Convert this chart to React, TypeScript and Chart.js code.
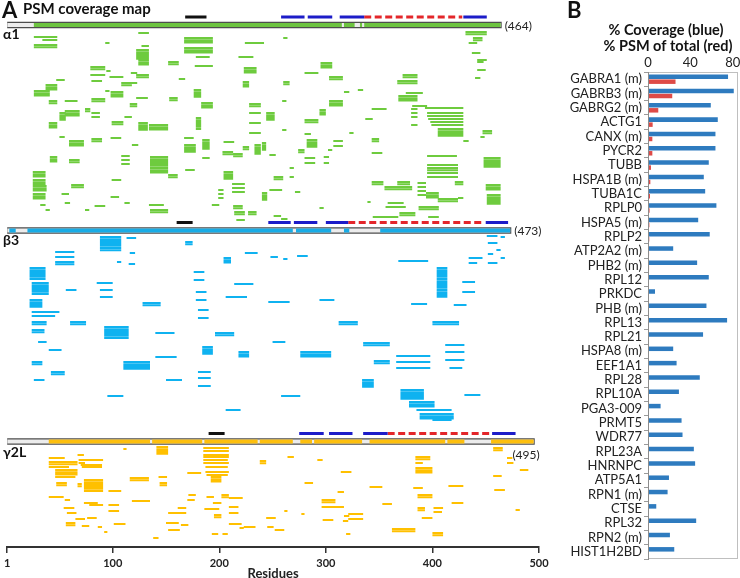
import React, { useEffect, useRef } from 'react';
import { Chart, registerables } from 'chart.js';
Chart.register(...registerables);

const FONT = "Lato, 'Open Sans', 'DejaVu Sans', sans-serif";

// ---------------- Panel A : PSM coverage map ----------------
const RESIDUE_TICKS = [1, 100, 200, 300, 400, 500];
const SUBUNITS = ['α1', 'β3', 'γ2L'];
const LENGTHS = [464, 473, 495];
const TRACK_ROWS = [25, 230.5, 441.5];

// covered stretches inside each subunit bar [start, end]
const A1_COVERED = [[26, 315], [317, 327], [332, 334], [336, 464]];
const B3_COVERED = [[3, 9], [20, 269], [272, 305], [317, 322], [351, 473]];
const G2_COVERED = [[40, 135], [137, 184], [186, 236], [238, 269], [276, 287], [289, 334], [341, 412], [414, 430], [455, 495]];

// domain marks above each bar [start, end]
const A1_BLACK = [[168, 188]];
const A1_TM = [[258, 280], [283, 306], [313, 336], [429, 451]];
const A1_LOOP = [[336, 428]];
const B3_BLACK = [[160, 175]];
const B3_TM = [[246, 267], [270, 292], [300, 321], [450, 471]];
const B3_LOOP = [[321, 448]];
const G2_BLACK = [[190, 205]];
const G2_TM = [[275, 298], [303, 325], [335, 358], [456, 478]];
const G2_LOOP = [[358, 454]];

// peptides: [start, end, row, stacked PSMs]
const A1_PEPTIDES = [
  [26,48,37,1],[26,48,45,2],[34,48,40,1],[93,97,43,1],[124,134,33,1],[127,134,46,1],[122,134,50,5],[124,134,60,3],
  [167,194,38,3],[167,194,48,3],[178,191,57,1],[224,242,43,1],[218,232,57,1],[260,264,38,1],[431,451,32,2],
  [438,447,38,2],[434,442,43,1],[437,445,53,1],[442,448,62,1],[442,451,60,1],
  [152,162,62,2],[177,194,66,1],[79,93,67,2],[223,235,68,3],[94,98,71,1],[79,93,75,1],[97,110,77,1],[117,123,73,1],
  [122,134,75,2],[47,55,80,1],[80,90,81,1],[162,168,79,1],[108,118,83,2],[116,123,83,1],[222,228,82,3],[37,48,85,3],
  [26,41,91,3],[93,97,91,1],[98,110,92,3],[122,133,98,1],[153,161,98,2],[176,183,90,4],[40,48,101,2],[55,67,101,1],
  [80,93,99,2],[116,123,104,2],[183,194,103,3],[228,239,104,2],[50,56,113,4],[55,69,111,3],[74,79,109,2],[80,88,113,1],
  [80,88,117,1],[111,118,117,1],[40,48,123,3],[99,110,122,2],[124,133,123,4],[134,152,125,3],[178,183,118,6],
  [228,239,113,1],[228,239,123,1],[228,239,133,1],[50,55,137,1],[59,73,141,3],[80,90,139,2],[98,108,138,1],
  [118,124,145,1],[167,176,138,1],[167,178,145,4],[184,191,140,5],[204,214,142,1],[203,213,152,2],[213,222,154,2],
  [222,228,147,2],[233,239,145,5],[41,48,157,3],[59,69,160,2],[108,116,156,1],[108,116,160,1],[108,116,164,1],
  [135,152,157,8],[152,161,175,2],[168,177,170,1],[184,191,158,1],[204,213,172,4],[25,37,172,3],[25,37,180,3],
  [25,38,186,3],[25,37,194,3],[61,73,185,2],[52,59,194,1],[99,108,180,1],[98,106,197,1],[111,116,203,1],[55,60,203,1],
  [32,37,205,1],[37,41,210,1],[74,78,210,1],[83,93,206,1],[134,148,205,1],[135,152,210,2],[212,224,184,1],
  [212,224,188,1],[212,224,192,1],[199,204,190,1],[199,204,194,1],[199,204,198,1],[193,200,205,1],[213,222,206,2],
  [214,224,212,2],[227,235,212,2],[216,224,220,1],
  [295,306,63,3],[280,293,73,1],[260,266,82,2],[303,316,77,2],[317,322,92,1],[330,335,90,1],[372,386,75,2],
  [367,386,81,2],[375,391,93,1],[368,386,96,3],[442,450,70,1],[440,445,78,1],[303,316,101,3],[244,252,113,4],
  [259,263,101,1],[280,293,120,2],[294,300,110,3],[343,357,109,1],[337,344,119,1],[381,395,106,1],[380,386,109,1],
  [380,386,113,1],[380,386,117,1],[380,386,125,1],[393,429,108,1],[395,429,113,1],[395,429,116,1],[396,429,119,1],
  [398,429,122,1],[399,429,125,1],[405,429,129,4],[447,456,131,2],[445,449,137,1],[322,326,133,1],[259,263,130,1],
  [280,286,134,1],[282,292,140,4],[307,316,141,1],[307,316,146,1],[343,350,139,2],[343,353,153,1],[302,306,150,1],
  [298,303,157,1],[298,303,163,1],[280,290,158,1],[280,290,163,1],[274,280,150,2],[240,244,143,4],[247,253,155,1],
  [395,423,156,1],[395,424,165,1],[395,424,168,2],[395,424,173,1],[395,424,177,1],[429,434,141,1],[448,464,158,5],
  [450,464,185,3],[451,464,195,5],[421,429,182,2],[251,260,177,2],[247,259,190,1],[266,270,168,1],[266,270,177,1],
  [271,276,192,1],[294,298,208,1],[343,354,182,2],[355,381,187,2],[367,379,182,2],[386,394,183,1],[386,394,187,1],
  [386,394,191,1],[386,394,195,1],[394,406,193,3],[405,424,199,2],[424,429,198,1],[339,342,202,1],[358,373,203,1],
  [356,375,207,1],[369,384,213,2],[387,406,207,2],[396,406,217,1],[344,368,217,1],[251,258,216,1],[258,264,219,1],
  [240,245,193,4],
];

const B3_PEPTIDES = [
  [88,108,237,7],[113,122,238,1],[116,121,253,1],[104,108,262,1],[115,121,264,1],[204,211,258,3],[224,236,253,1],
  [248,255,257,1],[260,264,259,1],[273,283,256,1],[368,396,261,1],[434,447,258,1],[451,461,236,1],[464,468,237,1],
  [452,461,243,1],[460,464,250,1],[452,457,254,1],[464,468,258,1],[434,442,263,1],[452,461,263,1],[46,64,252,1],
  [46,64,257,1],[46,64,262,2],
  [22,37,268,6],[24,40,283,6],[22,34,300,4],[24,50,312,1],[24,46,316,1],[24,38,322,2],[24,36,330,2],[30,38,342,1],
  [40,52,350,1],[24,34,362,2],[26,36,380,1],[42,55,372,2],[60,75,322,2],[56,66,290,1],[85,100,283,1],[88,100,290,1],
  [88,100,297,1],[92,115,327,6],[110,135,362,4],[95,110,396,1],[128,145,303,2],[140,158,333,1],[140,160,357,1],
  [150,165,380,1],[168,175,242,2],[176,186,272,1],[176,186,280,1],[178,188,292,1],[178,188,300,1],[180,190,310,1],
  [180,190,318,1],[184,194,347,4],[180,192,372,1],[180,192,378,1],[180,192,386,1],[196,214,333,2],[206,226,297,1],
  [214,232,284,1],[218,228,352,3],[206,220,410,1],[246,266,302,1],[250,262,342,1],[258,276,396,1],[276,305,352,3],
  [294,308,300,1],[312,330,322,2],[334,345,380,4],[335,360,343,2],[345,360,361,2],[366,398,356,1],[366,398,362,1],
  [366,398,368,1],[370,392,390,5],[378,402,402,3],[385,418,410,1],[388,420,414,3],[400,418,420,1],[404,414,268,14],
  [400,425,322,2],[412,430,345,1],[412,430,352,1],[412,430,360,1],[416,428,368,1],[430,445,395,1],[428,440,282,1],
  [428,440,292,1],[380,395,304,1],[420,432,305,1],
];

const G2_PEPTIDES = [
  [40,55,458,1],[40,67,462,2],[67,73,455,1],[68,91,460,1],[68,74,463,1],[70,90,465,1],[40,59,467,1],[46,67,470,3],
  [46,65,477,1],[71,90,467,1],[47,57,483,2],[67,71,484,2],[73,91,480,6],[40,54,497,1],[96,108,491,1],[110,113,449,1],
  [116,134,478,2],[141,152,447,4],[143,151,477,1],[144,151,483,2],[55,60,500,1],[73,86,503,1],[78,91,505,1],
  [54,64,508,1],[96,106,505,1],[96,106,511,1],[57,66,513,1],[65,74,519,1],[76,85,518,1],[56,65,523,2],[71,78,526,1],
  [86,90,527,1],[92,95,532,1],[101,112,524,1],[118,135,501,1],[138,143,538,1],[152,169,513,1],[161,169,508,1],
  [150,162,523,1],[152,163,530,1],[164,171,525,1],[170,183,473,1],[171,178,495,1],[170,177,500,1],[185,209,448,1],
  [185,209,451,1],[185,209,455,1],[185,209,457,1],[185,208,460,1],[185,209,463,1],[187,208,467,1],[187,209,472,1],
  [188,208,475,1],[192,202,477,3],[188,195,497,1],[202,209,495,2],[209,222,498,1],[194,202,503,1],[186,200,509,1],
  [209,218,507,1],[209,218,513,1],[195,202,515,2],[209,221,524,1],[219,223,528,1],[223,234,527,1],[193,199,534,1],
  [203,208,534,1],[238,244,461,2],[244,253,518,1],[245,251,527,1],[252,261,530,1],[261,264,511,1],[264,270,457,1],
  [277,280,514,1],[280,288,483,1],[292,297,460,1],[296,309,500,2],[296,317,507,1],[297,307,520,1],[311,317,492,1],
  [314,324,472,1],[317,322,516,1],[316,321,521,1],[321,335,514,1],[321,335,519,1],[319,323,534,1],[341,353,487,1],
  [353,362,504,1],[362,384,529,2],[384,398,457,2],[384,391,463,1],[384,400,468,3],[382,391,488,1],[386,400,495,2],
  [386,393,508,2],[390,400,518,1],[401,410,508,1],[401,409,512,1],[400,410,533,2],[415,429,486,1],[418,429,503,1],
  [457,466,448,2],[457,465,476,1],[458,468,490,1],[470,475,458,1],[470,476,463,1],[478,482,510,1],[482,490,470,1],
];

// ---------------- Panel B : coverage / PSM bars ----------------
const GENES = ['GABRA1 (m)','GABRB3 (m)','GABRG2 (m)','ACTG1','CANX (m)','PYCR2','TUBB','HSPA1B (m)','TUBA1C','RPLP0',
  'HSPA5 (m)','RPLP2','ATP2A2 (m)','PHB2 (m)','RPL12','PRKDC','PHB (m)','RPL13','RPL21','HSPA8 (m)','EEF1A1','RPL28',
  'RPL10A','PGA3-009','PRMT5','WDR77','RPL23A','HNRNPC','ATP5A1','RPN1 (m)','CTSE','RPL32','RPN2 (m)','HIST1H2BD'];
const COVERAGE = [75.6,81,59.3,65.9,63.7,63.7,57.4,52.7,54,64.6,47.4,58.3,23.8,46.4,57.4,6.6,55.2,74.7,52,23.8,27,48.9,
  29.2,11.9,31.7,32.6,43.3,44.5,19.8,18.5,7.8,45.5,20.7,24.8];
const PSM_PCT = [26,22.9,9.7,4.4,4.1,4.1,2.8,2.2,1.9,1.5,1.3,1.2,1.0,1.0,0.9,0.9,0.8,0.8,0.7,0.7,0.6,0.6,0.6,0.5,0.5,0.5,
  0.5,0.4,0.4,0.4,0.4,0.3,0.3,0.3];
const B_TICKS = [0, 40, 80];

// ---------------- helpers ----------------
const STACK = 2.2;
type Pt = { x: number; y: number | null };

function toLine(segs: number[][], row: number): Pt[] {
  const pts: Pt[] = [];
  segs.forEach(([s, e]) => { pts.push({ x: s, y: row }, { x: e, y: row }, { x: e, y: null }); });
  return pts;
}
function peptideLine(list: number[][]): Pt[] {
  const pts: Pt[] = [];
  list.forEach(([s, e, r, n]) => {
    for (let i = 0; i < (n || 1); i++) {
      const y = r + i * STACK;
      pts.push({ x: s, y }, { x: e, y }, { x: e, y: null });
    }
  });
  return pts;
}
function ds(data: Pt[], color: string, width: number, extra: any = {}) {
  return {
    data, borderColor: color, backgroundColor: color, borderWidth: width, showLine: true,
    pointRadius: 0, pointHoverRadius: 0, pointHitRadius: 0, spanGaps: false, tension: 0,
    borderCapStyle: 'butt', ...extra,
  };
}

const COL = {
  green: '#6ECB3E', greenBar: '#6DC440',
  cyan: '#0FB2F0', cyanBar: '#18ACE6',
  gold: '#FFC000', goldBar: '#FDBF0E',
  grey: '#ECECEC', outline: '#4D4D4D',
  black: '#111111', tm: '#1C1CC8', loop: '#E3262A',
};

export default function App() {
  const refA = useRef<HTMLCanvasElement>(null);
  const refB = useRef<HTMLCanvasElement>(null);

  useEffect(() => {
    const covered = [A1_COVERED, B3_COVERED, G2_COVERED];
    const barCols = [COL.greenBar, COL.cyanBar, COL.goldBar];
    const blacks = [A1_BLACK, B3_BLACK, G2_BLACK];
    const tms = [A1_TM, B3_TM, G2_TM];
    const loops = [A1_LOOP, B3_LOOP, G2_LOOP];
    const peps = [A1_PEPTIDES, B3_PEPTIDES, G2_PEPTIDES];
    const pepCols = [COL.green, COL.cyan, COL.gold];

    const datasets: any[] = [];
    TRACK_ROWS.forEach((row, i) => {
      const dRow = row - 8;
      datasets.push(ds(toLine(blacks[i], dRow), COL.black, 3));
      datasets.push(ds(toLine(tms[i], dRow), COL.tm, 3));
      datasets.push(ds(toLine(loops[i], dRow), COL.loop, 3, { borderDash: [7, 3.5] }));
      datasets.push(ds(toLine(covered[i], row), barCols[i], 4));
      datasets.push(ds(toLine([[1, LENGTHS[i]]], row), COL.grey, 4));
      datasets.push(ds(toLine([[0, LENGTHS[i] + 1]], row), COL.outline, 6.5));
    });
    TRACK_ROWS.forEach((row, i) => {
      datasets.push(ds(peptideLine(peps[i]), pepCols[i], 2.1));
    });

    const textA = {
      id: 'textA',
      afterDraw(chart: any) {
        const { ctx } = chart;
        const x = chart.scales.x, y = chart.scales.y;
        ctx.save();
        ctx.fillStyle = '#111';
        ctx.textBaseline = 'alphabetic';
        ctx.textAlign = 'left';
        ctx.font = `bold 22px ${FONT}`;
        ctx.fillText('A', 2, 18);
        ctx.font = `bold 15px ${FONT}`;
        ctx.fillText('PSM coverage map', 23, 14);
        const nameOff = [13.5, 14.5, 15];
        SUBUNITS.forEach((name, i) => {
          ctx.font = `bold 14px ${FONT}`;
          ctx.textAlign = 'left';
          ctx.textBaseline = 'alphabetic';
          ctx.fillStyle = '#111';
          ctx.fillText(name, 3, y.getPixelForValue(TRACK_ROWS[i]) + nameOff[i]);
          ctx.font = `12px ${FONT}`;
          ctx.fillStyle = '#222';
          ctx.textBaseline = 'middle';
          const px = x.getPixelForValue(LENGTHS[i]);
          const py = y.getPixelForValue(TRACK_ROWS[i]);
          if (i < 2) {
            ctx.textAlign = 'left';
            ctx.fillText(`(${LENGTHS[i]})`, px + 4, py + 1);
          } else {
            ctx.textAlign = 'right';
            ctx.fillText(`(${LENGTHS[i]})`, px + 6, py + 14);
          }
        });
        ctx.restore();
      },
    };

    const chartA = new Chart(refA.current!, {
      type: 'scatter',
      data: { datasets },
      options: {
        responsive: false,
        animation: false,
        events: [],
        layout: { padding: { left: 5, right: 21, top: 0, bottom: 0 } },
        plugins: { legend: { display: false }, tooltip: { enabled: false }, title: { display: false } },
        scales: {
          x: {
            type: 'linear', min: 1, max: 500,
            afterBuildTicks: (s: any) => { s.ticks = RESIDUE_TICKS.map((v) => ({ value: v })); },
            afterFit: (s: any) => { s.height = 35; },
            grid: { drawOnChartArea: false, drawTicks: true, tickLength: 6, color: '#333', lineWidth: 1.5 },
            border: { display: true, color: '#333', width: 2 },
            ticks: { color: '#222', font: { family: FONT, size: 11, weight: 'bold' }, padding: 4, maxRotation: 0, autoSkip: false },
            title: { display: true, text: 'Residues', color: '#222', font: { family: FONT, size: 13, weight: 'bold' }, padding: { top: 0, bottom: 0 } },
          },
          y: { type: 'linear', min: 0, max: 547, reverse: true, display: false },
        },
      } as any,
      plugins: [textA],
    });

    const textB = {
      id: 'textB',
      afterDraw(chart: any) {
        const { ctx, chartArea } = chart;
        const xs = chart.scales.x;
        ctx.save();
        ctx.strokeStyle = '#BFBFBF';
        ctx.lineWidth = 1;
        ctx.strokeRect(chartArea.left + 0.5, chartArea.top + 0.5, chartArea.right - chartArea.left - 1, chartArea.bottom - chartArea.top - 1);
        ctx.strokeStyle = '#8C8C8C';
        ctx.beginPath();
        ctx.moveTo(chartArea.left + 0.5, chartArea.top);
        ctx.lineTo(chartArea.left + 0.5, chartArea.bottom);
        ctx.stroke();
        ctx.fillStyle = '#111';
        ctx.textBaseline = 'alphabetic';
        ctx.textAlign = 'left';
        ctx.font = `bold 22px ${FONT}`;
        ctx.fillText('B', 7, 18);
        ctx.textAlign = 'center';
        ctx.font = `bold 14.5px ${FONT}`;
        ctx.fillText('% Coverage (blue)', 106, 35);
        ctx.fillText('% PSM of total (red)', 108, 51);
        ctx.font = `13px ${FONT}`;
        ctx.fillStyle = '#222';
        ctx.textBaseline = 'alphabetic';
        B_TICKS.forEach((v) => {
          ctx.fillText(String(v), xs.getPixelForValue(v), 67);
        });
        ctx.restore();
      },
    };

    const chartB = new Chart(refB.current!, {
      type: 'bar',
      data: {
        labels: GENES,
        datasets: [
          { data: COVERAGE, backgroundColor: '#2E7BBF', borderWidth: 0, categoryPercentage: 0.7, barPercentage: 0.9 },
          { data: PSM_PCT, backgroundColor: '#DE4B47', borderWidth: 0, categoryPercentage: 0.7, barPercentage: 0.9 },
        ],
      },
      options: {
        indexAxis: 'y',
        responsive: false,
        animation: false,
        events: [],
        layout: { padding: { left: 0, right: 2, top: 72, bottom: 19 } },
        plugins: { legend: { display: false }, tooltip: { enabled: false } },
        scales: {
          x: {
            position: 'top', min: 0, max: 85, display: false,
          },
          y: {
            afterFit: (s: any) => { s.width = 88; },
            grid: { display: true, drawOnChartArea: false, tickLength: 4, color: '#9A9A9A', offset: true },
            border: { display: true, color: '#8C8C8C' },
            ticks: { color: '#222', font: { family: FONT, size: 13 }, padding: 2, autoSkip: false },
          },
        },
      } as any,
      plugins: [textB],
    });

    return () => { chartA.destroy(); chartB.destroy(); };
  }, []);

  return (
    <div style={{ position: 'fixed', left: 0, top: 0, width: 740, height: 578, overflow: 'hidden', background: '#fff' }}>
      <div style={{ position: 'absolute', left: 0, top: 0 }}>
        <canvas ref={refA} width={560} height={582} style={{ display: 'block' }} />
      </div>
      <div style={{ position: 'absolute', left: 560, top: 0 }}>
        <canvas ref={refB} width={180} height={578} style={{ display: 'block' }} />
      </div>
    </div>
  );
}
